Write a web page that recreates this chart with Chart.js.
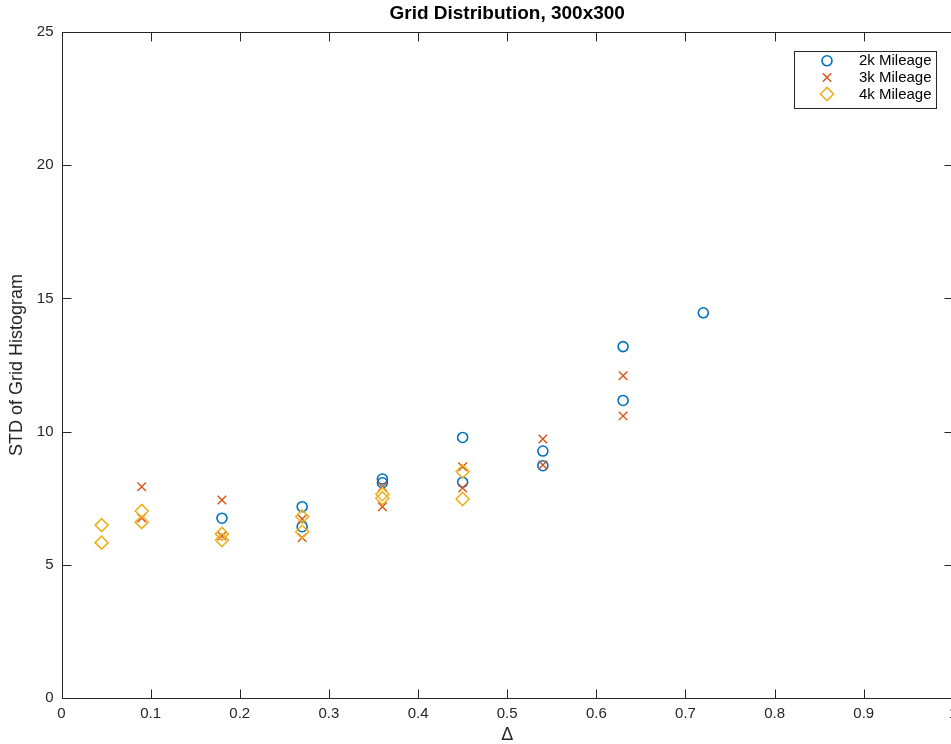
<!DOCTYPE html>
<html>
<head>
<meta charset="utf-8">
<script src="https://cdn.jsdelivr.net/npm/chart.js@4/dist/chart.umd.min.js"></script>
<style>
  html, body { margin: 0; padding: 0; background: #fff; overflow: hidden; }
  #wrap { width: 961px; height: 744px; }
</style>
</head>
<body>
<div id="wrap"><canvas id="gridChart" width="961" height="744"></canvas></div>
<script>
// data
var mileage2kX = [0.18, 0.27, 0.27, 0.36, 0.36, 0.45, 0.45, 0.54, 0.54, 0.63, 0.63, 0.72];
var mileage2kY = [6.75, 7.18, 6.43, 8.22, 8.08, 9.78, 8.10, 9.27, 8.72, 13.19, 11.17, 14.46];
var mileage3kX = [0.09, 0.09, 0.18, 0.18, 0.27, 0.27, 0.36, 0.36, 0.45, 0.45, 0.54, 0.54, 0.63, 0.63];
var mileage3kY = [7.93, 6.76, 7.43, 6.08, 6.72, 6.02, 7.93, 7.18, 8.68, 7.88, 9.72, 8.75, 12.10, 10.59];
var mileage4kX = [0.045, 0.045, 0.09, 0.09, 0.18, 0.18, 0.27, 0.27, 0.36, 0.36, 0.45, 0.45];
var mileage4kY = [6.49, 5.83, 7.02, 6.60, 6.16, 5.93, 6.81, 6.24, 7.65, 7.50, 8.50, 7.47];
var seriesNames = ['2k Mileage', '3k Mileage', '4k Mileage'];

function pts(xs, ys) {
    return xs.map(function (x, i) { return { x: x, y: ys[i] }; });
}

var axisColor = '#262626';
var fontFam = '"Liberation Sans", Arial, Helvetica, sans-serif';

// box around the axes with inward ticks (matlab look)
var boxPlugin = {
    id: 'boxTicks',
    afterDraw: function (chart) {
        var ctx = chart.ctx, a = chart.chartArea;
        var xs = chart.scales.x, ys = chart.scales.y;
        var L = Math.round(a.left) + 0.5, R = Math.round(a.right) + 0.5;
        var T = Math.round(a.top) + 0.5, B = Math.round(a.bottom) + 0.5;
        var tl = 9;
        ctx.save();
        ctx.strokeStyle = axisColor;
        ctx.lineWidth = 1;
        ctx.strokeRect(L, T, R - L, B - T);
        ctx.beginPath();
        xs.ticks.forEach(function (t) {
            var px = Math.round(xs.getPixelForValue(t.value)) + 0.5;
            ctx.moveTo(px, B); ctx.lineTo(px, B - tl);
            ctx.moveTo(px, T); ctx.lineTo(px, T + tl);
        });
        ys.ticks.forEach(function (t) {
            var py = Math.round(ys.getPixelForValue(t.value)) + 0.5;
            ctx.moveTo(L, py); ctx.lineTo(L + tl, py);
            ctx.moveTo(R, py); ctx.lineTo(R - tl, py);
        });
        ctx.stroke();
        ctx.restore();
    }
};

// legend box in the top right corner of the axes
var legendPlugin = {
    id: 'boxLegend',
    afterDraw: function (chart) {
        var ctx = chart.ctx;
        var bx = 794.5, by = 51.5, bw = 142, bh = 57;
        ctx.save();
        ctx.fillStyle = '#fff';
        ctx.fillRect(bx, by, bw, bh);
        ctx.strokeStyle = axisColor;
        ctx.lineWidth = 1;
        ctx.strokeRect(bx, by, bw, bh);
        ctx.font = '15px ' + fontFam;
        ctx.textBaseline = 'middle';
        ctx.textAlign = 'left';
        chart.data.datasets.forEach(function (ds, i) {
            var cy = 60.8 + i * 16.6;
            ctx.strokeStyle = ds.borderColor;
            ctx.fillStyle = 'rgba(0,0,0,0)';
            ctx.lineWidth = ds.borderWidth;
            Chart.helpers.drawPoint(ctx, {
                pointStyle: ds.pointStyle,
                radius: ds.pointRadius,
                borderWidth: ds.borderWidth,
                rotation: 0
            }, 827, cy);
            ctx.fillStyle = '#000';
            ctx.fillText(ds.label, 859, cy + 0.5);
        });
        ctx.restore();
    }
};

var ctx = document.getElementById('gridChart').getContext('2d');
var gridChart = new Chart(ctx, {
    type: 'scatter',
    data: {
        datasets: [{
            label: seriesNames[0],
            data: pts(mileage2kX, mileage2kY),
            pointStyle: 'circle',
            pointRadius: 5,
            borderColor: '#0072BD',
            backgroundColor: 'rgba(0,0,0,0)',
            borderWidth: 1.6,
            order: 2
        }, {
            label: seriesNames[1],
            data: pts(mileage3kX, mileage3kY),
            pointStyle: 'crossRot',
            pointRadius: 6,
            borderColor: '#D95319',
            backgroundColor: 'rgba(0,0,0,0)',
            borderWidth: 1.4,
            order: 1
        }, {
            label: seriesNames[2],
            data: pts(mileage4kX, mileage4kY),
            pointStyle: 'rectRot',
            pointRadius: 6.5,
            borderColor: '#EDB120',
            backgroundColor: 'rgba(0,0,0,0)',
            borderWidth: 1.6,
            order: 0
        }]
    },
    options: {
        responsive: false,
        animation: false,
        layout: { padding: { left: 0, right: 3.5, top: 0, bottom: 0 } },
        scales: {
            x: {
                type: 'linear',
                min: 0,
                max: 1,
                grid: { display: false, drawTicks: false },
                border: { display: false },
                ticks: {
                    stepSize: 0.1,
                    maxRotation: 0,
                    autoSkip: false,
                    padding: 7,
                    color: axisColor,
                    font: { family: fontFam, size: 15 },
                    callback: function (v) { return String(+v.toFixed(1)); }
                },
                title: {
                    display: true,
                    text: 'Δ',
                    color: axisColor,
                    padding: { top: 0, bottom: -1.5 },
                    font: { family: fontFam, size: 18 }
                },
                afterFit: function (s) {
                    s.height = 46;
                    s.paddingLeft = 0;
                    s.paddingRight = 0;
                }
            },
            y: {
                type: 'linear',
                min: 0,
                max: 25,
                grid: { display: false, drawTicks: false },
                border: { display: false },
                ticks: {
                    stepSize: 5,
                    padding: 8,
                    color: axisColor,
                    font: { family: fontFam, size: 15 }
                },
                title: {
                    display: true,
                    text: 'STD of Grid Histogram',
                    color: axisColor,
                    padding: { top: 6.7, bottom: 0 },
                    font: { family: fontFam, size: 18 }
                },
                afterFit: function (s) {
                    s.width = 61.5;
                    s.paddingTop = 0;
                    s.paddingBottom = 0;
                }
            }
        },
        plugins: {
            legend: { display: false },
            tooltip: { enabled: false },
            title: {
                display: true,
                fullSize: false,
                text: 'Grid Distribution, 300x300',
                color: '#000',
                padding: { top: 2.5, bottom: 6.7 },
                font: { family: fontFam, size: 19, weight: 'bold' }
            }
        }
    },
    plugins: [boxPlugin, legendPlugin]
});
</script>
</body>
</html>
